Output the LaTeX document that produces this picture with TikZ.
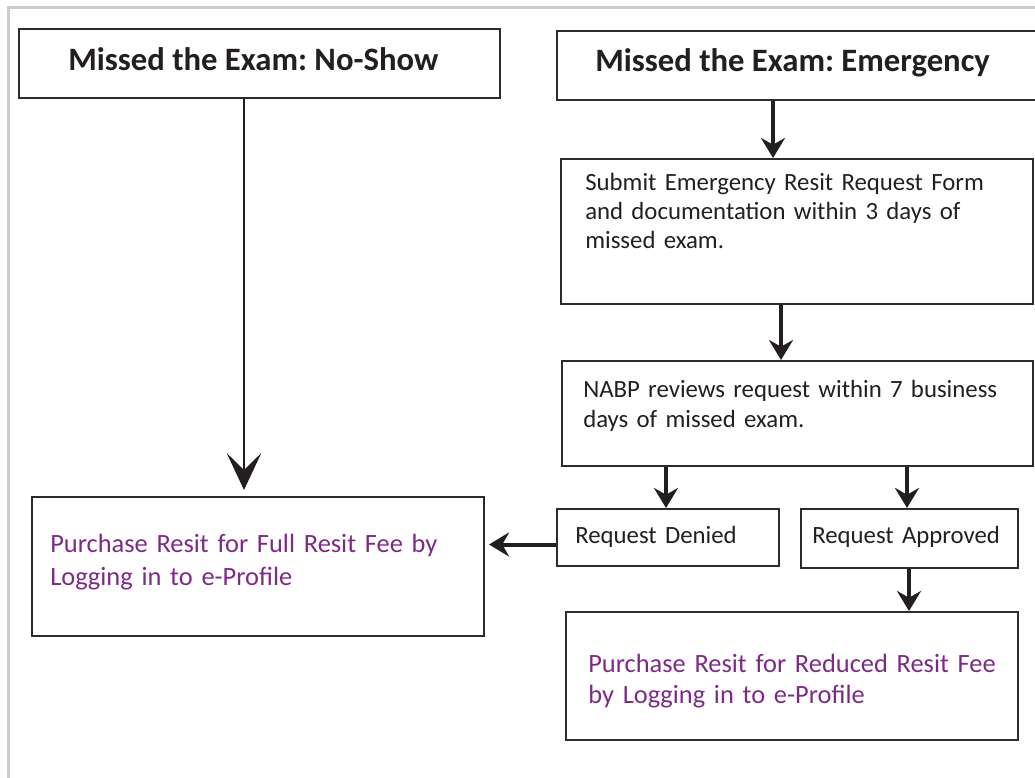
\documentclass[tikz,border=0pt]{standalone}
\usepackage{fontspec}
\setmainfont{Carlito}
\frenchspacing
\usetikzlibrary{arrows.meta,fit,calc}
\definecolor{framegray}{RGB}{204,204,204}
\definecolor{ink}{RGB}{35,31,32}
\definecolor{edgec}{RGB}{43,43,43}
\definecolor{purp}{RGB}{125,42,135}
\begin{document}
\begin{tikzpicture}[x=0.75pt,y=-0.75pt,
  box/.style={draw=edgec,line width=1.5pt,inner sep=0pt},
  ttl/.style={font=\fontsize{24.5}{29}\selectfont\bfseries, text=ink, inner sep=0pt, anchor=base west},
  txt/.style={font=\fontsize{18.6}{22}\selectfont, text=ink, inner sep=0pt, anchor=base west, align=left, text width=400pt},
  ptxt/.style={font=\fontsize{19.8}{24}\selectfont, text=purp, inner sep=0pt, anchor=base west, align=left, text width=400pt},
  arr/.style={draw=ink, line width=3pt, -{Stealth[length=15pt,width=18pt,inset=5pt]}},
  bigarr/.style={draw=ink, line width=1.5pt, -{Stealth[length=27.75pt,width=26pt,inset=12.75pt]}}]
\useasboundingbox (0,0) rectangle (1035,778);
\draw[framegray, line width=2.25pt] (8,800) -- (8,7) -- (1050,7);

% boxes
\node[box, fit={(19,29) (500,98)}] (a) {};
\node[box, fit={(557,31) (1050,100)}] (b) {};
\node[box, fit={(561,159) (1033,304)}] (c) {};
\node[box, fit={(562,361) (1033,466)}] (d) {};
\node[box, fit={(557,509) (779,566)}] (e) {};
\node[box, fit={(801,509) (1018,568)}] (f) {};
\node[box, fit={(32,497) (484,636)}] (g) {};
\node[box, fit={(566,612) (1018,740)}] (h) {};

% texts
\node[ttl] (at) at (68,70) {Missed the Exam: No-Show};
\node[ttl] (bt) at (595,71) {Missed the Exam: Emergency};
\node[txt, font=\fontsize{18.6}{21.75}\selectfont] (ct) at (585,190) {Submit Emergency Resit Request Form\\and documentation within 3 days of\\missed exam.};
\node[txt, font=\fontsize{18.6}{22.5}\selectfont] (dt) at (583,397) {NABP reviews request within 7 business\\days of missed exam.};
\node[txt] (et) at (575,543) {Request Denied};
\node[txt] (ft) at (812,543) {Request Approved};
\node[ptxt, font=\fontsize{19.8}{24.75}\selectfont] (gt) at (50,552) {Purchase Resit for Full Resit Fee by\\Logging in to e-Profile};
\node[ptxt, font=\fontsize{19.8}{23.25}\selectfont] (ht) at (588,672) {Purchase Resit for Reduced Resit Fee\\by Logging in to e-Profile};

% connectors
\draw[bigarr, shorten >=4.5pt] ($(a.south west)+(226,0)$) -- ($(g.north west)+(213,0)$);
\draw[arr] ($(b.south west)+(217,0)$) -- ($(c.north west)+(213,0)$);
\draw[arr] ($(c.south west)+(221,0)$) -- ($(d.north west)+(220,0)$);
\draw[arr] ($(d.south west)+(105,0)$) -- ($(e.north west)+(110,0)$);
\draw[arr] ($(d.south west)+(346,0)$) -- ($(f.north west)+(107,0)$);
\draw[arr] ($(f.south west)+(109,0)$) -- ($(h.north west)+(344,0)$);
\coordinate (es) at ($(e.west)+(0,7)$);
\draw[arr, shorten >=3pt] (es) -- (es -| g.east);
\end{tikzpicture}
\end{document}
